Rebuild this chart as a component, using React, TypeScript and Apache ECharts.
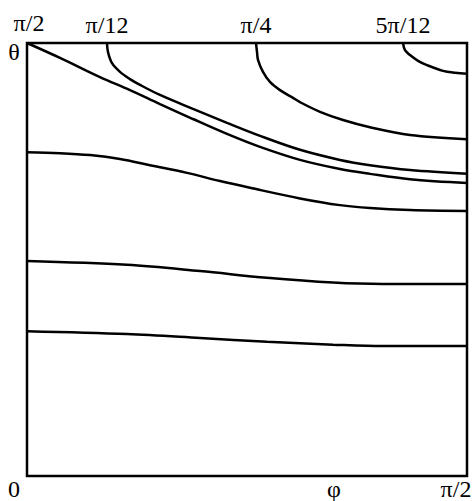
import React, { useEffect, useRef } from "react";
import * as echarts from "echarts";

// Axes in degrees: phi (x) from 0 to 90 (= π/2), theta (y) from 0 to 90 (= π/2)
const axisMin = 0;
const axisMax = 90;

// Contour lines, [phi, theta] in degrees
const contourCorner: number[][] = [
  [0, 90.0], [6.75, 86.9], [14.93, 82.9], [21.07, 80.2], [27.2, 77.3], [33.95, 74.2],
  [40.91, 71.1], [47.66, 68.4], [55.84, 65.7], [64.02, 63.8], [70.16, 62.8], [78.34, 61.7], [90, 60.9],
];
const contourPi12: number[][] = [
  [16.36, 90], [16.57, 88.1], [17.39, 85.8], [19.02, 84.0], [21.07, 82.5], [23.11, 81.3],
  [27.2, 79.2], [33.95, 76.3], [40.91, 73.4], [47.66, 70.7], [55.84, 67.8], [64.02, 65.7],
  [70.16, 64.6], [78.34, 63.6], [90, 62.8],
];
const contourPi4: number[][] = [
  [46.84, 90], [47.05, 88.1], [47.25, 86.5], [48.27, 84.0], [49.7, 81.9], [51.75, 80.2],
  [54.41, 78.6], [55.84, 77.7], [59.93, 75.7], [64.64, 74.0], [70.16, 72.5], [78.34, 70.9], [90, 70.0],
];
const contour5Pi12: number[][] = [
  [76.91, 90], [77.32, 88.5], [78.34, 87.5], [79.98, 86.3], [81.82, 85.4], [85.09, 84.2],
  [87.55, 83.8], [90, 83.6],
];
const contourMid: number[][] = [
  [0, 67.3], [6.75, 67.1], [12.89, 66.7], [19.02, 65.9], [25.16, 64.6], [32.73, 63.0],
  [39.48, 61.3], [45.61, 59.9], [55.84, 57.7], [64.02, 56.3], [70.16, 55.7], [78.34, 55.3], [90, 55.1],
];
const contourLow1: number[][] = [
  [0, 44.7], [20.45, 43.9], [35.39, 42.6], [49.09, 41.2], [62.59, 40.2], [72.82, 39.9], [90, 39.9],
];
const contourLow2: number[][] = [
  [0, 30.1], [20.45, 29.5], [35.39, 28.7], [49.09, 27.9], [62.59, 27.3], [72.82, 27.0], [90, 27.0],
];

const contours = [contourCorner, contourPi12, contourPi4, contour5Pi12, contourMid, contourLow1, contourLow2];
const contourLabels = ["", "π/12", "π/4", "5π/12", "", "", ""];

// Axis annotations
const yMaxLabel = "π/2";
const yName = "θ";
const originLabel = "0";
const xName = "φ";
const xMaxLabel = "π/2";

const FONT = "'Liberation Serif', 'Times New Roman', serif";
const FS = 24;

export default function App() {
  const ref = useRef<HTMLDivElement>(null);
  useEffect(() => {
    if (!ref.current) return;
    const chart = echarts.init(ref.current, undefined, { renderer: "svg" });
    const series = contours.map((pts, si) => ({
      type: "line",
      smooth: 0.35,
      showSymbol: true,
      symbol: "circle",
      symbolSize: 0,
      silent: true,
      lineStyle: { color: "#000", width: 2.5 },
      itemStyle: { color: "#000" },
      data: pts.map((p, i) =>
        i === 0 && contourLabels[si]
          ? {
              value: p,
              label: {
                show: true,
                position: "top",
                distance: 6,
                formatter: contourLabels[si],
                color: "#000",
                fontFamily: FONT,
                fontSize: FS,
              },
            }
          : { value: p }
      ),
    }));
    const txt = (text: string, x: number, y: number) => ({
      type: "text",
      x,
      y,
      style: {
        text,
        fill: "#000",
        font: `${FS}px ${FONT}`,
        align: "center",
        verticalAlign: "middle",
      },
    });
    chart.setOption({
      animation: false,
      backgroundColor: "#fff",
      grid: {
        left: 27,
        top: 43,
        width: 440,
        height: 433,
        show: true,
        borderColor: "#000",
        borderWidth: 2.5,
        backgroundColor: "transparent",
      },
      xAxis: {
        type: "value",
        min: axisMin,
        max: axisMax,
        axisLine: { show: false },
        axisTick: { show: false },
        axisLabel: { show: false },
        splitLine: { show: false },
      },
      yAxis: {
        type: "value",
        min: axisMin,
        max: axisMax,
        axisLine: { show: false },
        axisTick: { show: false },
        axisLabel: { show: false },
        splitLine: { show: false },
      },
      graphic: [
        txt(yMaxLabel, 29, 23),
        txt(yName, 14, 52),
        txt(originLabel, 14, 489),
        txt(xName, 334, 489),
        txt(xMaxLabel, 456, 489),
      ],
      series,
    });
    return () => chart.dispose();
  }, []);
  return <div ref={ref} style={{ width: 476, height: 501, position: "absolute", left: 0, top: 0 }} />;
}
